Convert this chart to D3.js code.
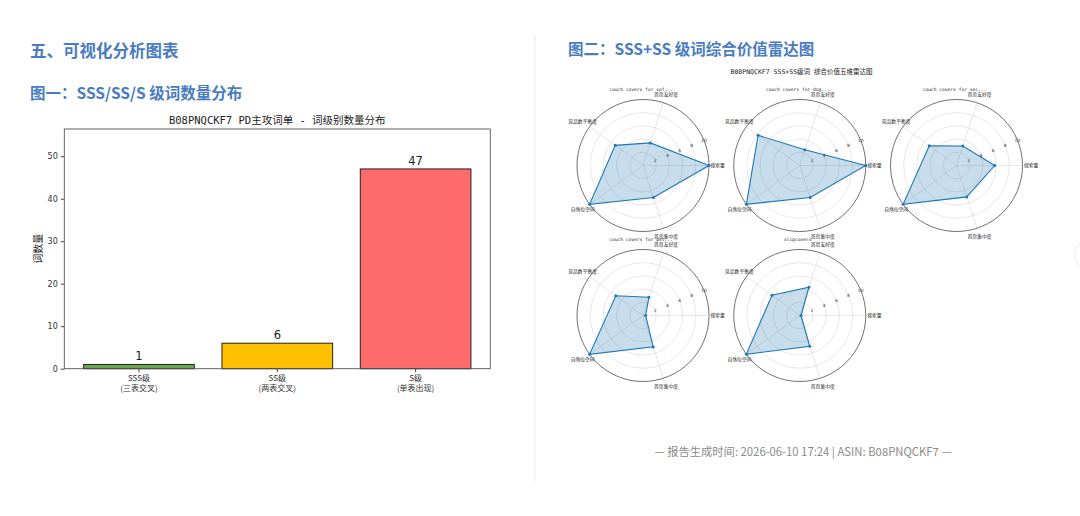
<!DOCTYPE html>
<html>
<head>
<meta charset="utf-8">
<script src="https://cdn.jsdelivr.net/npm/d3@7"></script>
<style>
  html, body { margin: 0; padding: 0; background: #fff; }
  svg { display: block; }
</style>
</head>
<body>
<div id="page"></div>
<script>
// ---- data ----
const barLevels = ["SSS级", "SS级", "S级"];
const barNotes = ["(三表交叉)", "(两表交叉)", "(单表出现)"];
const barCounts = [1, 6, 47];
const barTicks = [0, 10, 20, 30, 40, 50];

const radarKeywords = ["couch covers for sof...", "couch covers for dog...", "couch covers for sec...", "couch covers for pet...", "slipcovers"];
const radarDims = ["搜索量", "首页友好度", "竞品数平衡度", "自然位空间", "首页集中度"];
const radarScores = [
  [10, 3.6, 5.2, 10, 5.1],
  [10, 2.5, 7.8, 10, 5.1],
  [5.8, 3.1, 5.1, 10, 5.0],
  [0.4, 2.9, 5.1, 10, 5.0],
  [0.2, 4.5, 5.2, 10, 4.9]
];
const radarTicks = [2, 4, 6, 8, 10];

const barColors = ["#6aa84f", "#ffc000", "#ff6b6b"];
const headColor = "#4a7cc2";
const cjk = "'Noto Sans CJK SC', 'Noto Sans', sans-serif";
const mono = "'DejaVu Sans Mono', 'Noto Sans CJK SC', monospace";

const svg = d3.select("#page").append("svg")
    .attr("width", 1080)
    .attr("height", 516);

// ---- page headings ----
svg.append("text").attr("x", 30).attr("y", 57)
    .attr("font-family", cjk).attr("font-weight", "bold").attr("font-size", "16.5px")
    .attr("fill", headColor).text("五、可视化分析图表");
svg.append("text").attr("x", 30).attr("y", 99)
    .attr("font-family", cjk).attr("font-weight", "bold").attr("font-size", "15.5px")
    .attr("fill", headColor).text("图一：SSS/SS/S 级词数量分布");
svg.append("text").attr("x", 568).attr("y", 55)
    .attr("font-family", cjk).attr("font-weight", "bold").attr("font-size", "15.5px")
    .attr("fill", headColor).text("图二：SSS+SS 级词综合价值雷达图");

// divider between the two halves
svg.append("line").attr("x1", 535).attr("x2", 535).attr("y1", 35).attr("y2", 482)
    .attr("stroke", "#ececec").attr("stroke-width", 1);

// footer
svg.append("text").attr("x", 803).attr("y", 456).attr("text-anchor", "middle")
    .attr("font-family", cjk).attr("font-size", "11.3px").attr("fill", "#8a8a8a")
    .text("— 报告生成时间: 2026-06-10 17:24 | ASIN: B08PNQCKF7 —");

// faint edge button on the far right
svg.append("circle").attr("cx", 1092).attr("cy", 255).attr("r", 17)
    .attr("fill", "#fff").attr("stroke", "#ececec");

// ---- bar chart ----
const bc = {left: 64.3, right: 490.3, top: 129, bottom: 368.7};
const bw = bc.right - bc.left, bh = bc.bottom - bc.top;
const bar = svg.append("g").attr("transform", `translate(${bc.left},${bc.top})`);

const xBar = d3.scaleBand().domain(d3.range(barLevels.length)).range([0, bw])
    .paddingInner(0.2).paddingOuter(0.14);
const yBar = d3.scaleLinear().domain([0, d3.max(barCounts) * 1.2]).range([bh, 0]);

bar.selectAll("rect.bar").data(barCounts).join("rect")
    .attr("class", "bar")
    .attr("x", (d, i) => xBar(i))
    .attr("y", d => yBar(d))
    .attr("width", xBar.bandwidth())
    .attr("height", d => bh - yBar(d))
    .attr("fill", (d, i) => barColors[i])
    .attr("stroke", "#222").attr("stroke-width", 1);

bar.selectAll("text.val").data(barCounts).join("text")
    .attr("class", "val")
    .attr("x", (d, i) => xBar(i) + xBar.bandwidth() / 2)
    .attr("y", d => yBar(d) - 4)
    .attr("text-anchor", "middle")
    .attr("font-family", "'DejaVu Sans', sans-serif").attr("font-size", "11.5px")
    .attr("fill", "#222").text(d => d);

// y axis
const yAxis = bar.append("g").call(d3.axisLeft(yBar).tickValues(barTicks).tickSize(3.5).tickPadding(3));
yAxis.select(".domain").remove();
yAxis.selectAll("line").attr("stroke", "#444");
yAxis.selectAll("text").attr("font-family", "'DejaVu Sans', sans-serif").attr("font-size", "8px").attr("fill", "#333");

// x axis: two-line labels
const xAxis = bar.append("g").attr("transform", `translate(0,${bh})`)
    .call(d3.axisBottom(xBar).tickSize(3.5).tickFormat(""));
xAxis.select(".domain").remove();
xAxis.selectAll("line").attr("stroke", "#444");
bar.selectAll("text.xl").data(barLevels).join("text")
    .attr("class", "xl")
    .attr("x", (d, i) => xBar(i) + xBar.bandwidth() / 2)
    .attr("y", bh + 12)
    .attr("text-anchor", "middle")
    .attr("font-family", cjk).attr("font-size", "8px").attr("fill", "#333")
    .text(d => d);
bar.selectAll("text.xn").data(barNotes).join("text")
    .attr("class", "xn")
    .attr("x", (d, i) => xBar(i) + xBar.bandwidth() / 2)
    .attr("y", bh + 22)
    .attr("text-anchor", "middle")
    .attr("font-family", cjk).attr("font-size", "8px").attr("fill", "#333")
    .text(d => d);

// frame
bar.append("rect").attr("width", bw).attr("height", bh)
    .attr("fill", "none").attr("stroke", "#555").attr("stroke-width", 0.9);

// title and y label
bar.append("text").attr("x", bw / 2).attr("y", -5).attr("text-anchor", "middle")
    .attr("font-family", mono).attr("font-size", "10.5px").attr("fill", "#222")
    .text("B08PNQCKF7 PD主攻词单 - 词级别数量分布");
bar.append("text")
    .attr("transform", `translate(${-22},${bh / 2}) rotate(-90)`)
    .attr("text-anchor", "middle")
    .attr("font-family", cjk).attr("font-size", "10px").attr("fill", "#222")
    .text("词数量");

// ---- radar charts ----
const R = 66;
const colX = d3.scalePoint().domain([0, 1, 2]).range([643, 956.5]);
const rowY = d3.scalePoint().domain([0, 1]).range([165.5, 315.5]);
const rScale = d3.scaleLinear().domain([0, 10]).range([0, R]);
const nDim = radarDims.length;
// matplotlib style: 0 at 3 o'clock, counter-clockwise
const theta = i => i * 2 * Math.PI / nDim;
const toXY = (ang, r) => [r * Math.cos(ang), -r * Math.sin(ang)];

svg.append("text").attr("x", 801.5).attr("y", 74).attr("text-anchor", "middle")
    .attr("font-family", mono).attr("font-size", "6.5px").attr("fill", "#222")
    .text("B08PNQCKF7 SSS+SS级词 综合价值五维雷达图");

const radarLine = d3.lineRadial()
    .angle((d, i) => Math.PI / 2 - theta(i))
    .radius(d => rScale(d))
    .curve(d3.curveLinearClosed);

radarScores.forEach((scores, k) => {
  const g = svg.append("g")
      .attr("transform", `translate(${colX(k % 3)},${rowY(Math.floor(k / 3))})`);

  // grid circles
  g.selectAll("circle.grid").data(radarTicks.slice(0, -1)).join("circle")
      .attr("class", "grid").attr("r", d => rScale(d))
      .attr("fill", "none").attr("stroke", "#d6d6d6").attr("stroke-width", 0.6);

  // spokes
  g.selectAll("line.spoke").data(radarDims).join("line")
      .attr("class", "spoke")
      .attr("x1", 0).attr("y1", 0)
      .attr("x2", (d, i) => toXY(theta(i), R)[0])
      .attr("y2", (d, i) => toXY(theta(i), R)[1])
      .attr("stroke", "#d6d6d6").attr("stroke-width", 0.6);

  // outer circle
  g.append("circle").attr("r", rScale(10))
      .attr("fill", "none").attr("stroke", "#333").attr("stroke-width", 0.7);

  // data polygon
  g.append("path").attr("d", radarLine(scores))
      .attr("fill", "#1f77b4").attr("fill-opacity", 0.25)
      .attr("stroke", "#1f77b4").attr("stroke-width", 1.1);
  g.selectAll("circle.pt").data(scores).join("circle")
      .attr("class", "pt").attr("r", 1.5)
      .attr("cx", (d, i) => toXY(theta(i), rScale(d))[0])
      .attr("cy", (d, i) => toXY(theta(i), rScale(d))[1])
      .attr("fill", "#1f77b4");

  // radial tick labels at 22.5 degrees
  g.selectAll("text.rt").data(radarTicks).join("text")
      .attr("class", "rt")
      .attr("x", d => toXY(Math.PI / 8, rScale(d))[0])
      .attr("y", d => toXY(Math.PI / 8, rScale(d))[1])
      .attr("text-anchor", "middle").attr("dy", "0.35em")
      .attr("font-family", "'DejaVu Sans', sans-serif").attr("font-size", "4.5px").attr("fill", "#333")
      .text(d => d);

  // dimension labels
  g.selectAll("text.dim").data(radarDims).join("text")
      .attr("class", "dim")
      .attr("x", (d, i) => toXY(theta(i), R * 1.13)[0])
      .attr("y", (d, i) => toXY(theta(i), R * 1.13)[1])
      .attr("text-anchor", "middle").attr("dy", "0.35em")
      .attr("font-family", cjk).attr("font-size", "4.8px").attr("fill", "#222")
      .text(d => d);

  // subplot title
  g.append("text").attr("x", -2).attr("y", -74.5).attr("text-anchor", "middle")
      .attr("font-family", mono).attr("font-size", "4.6px").attr("fill", "#222")
      .text(radarKeywords[k]);
});
</script>
</body>
</html>
